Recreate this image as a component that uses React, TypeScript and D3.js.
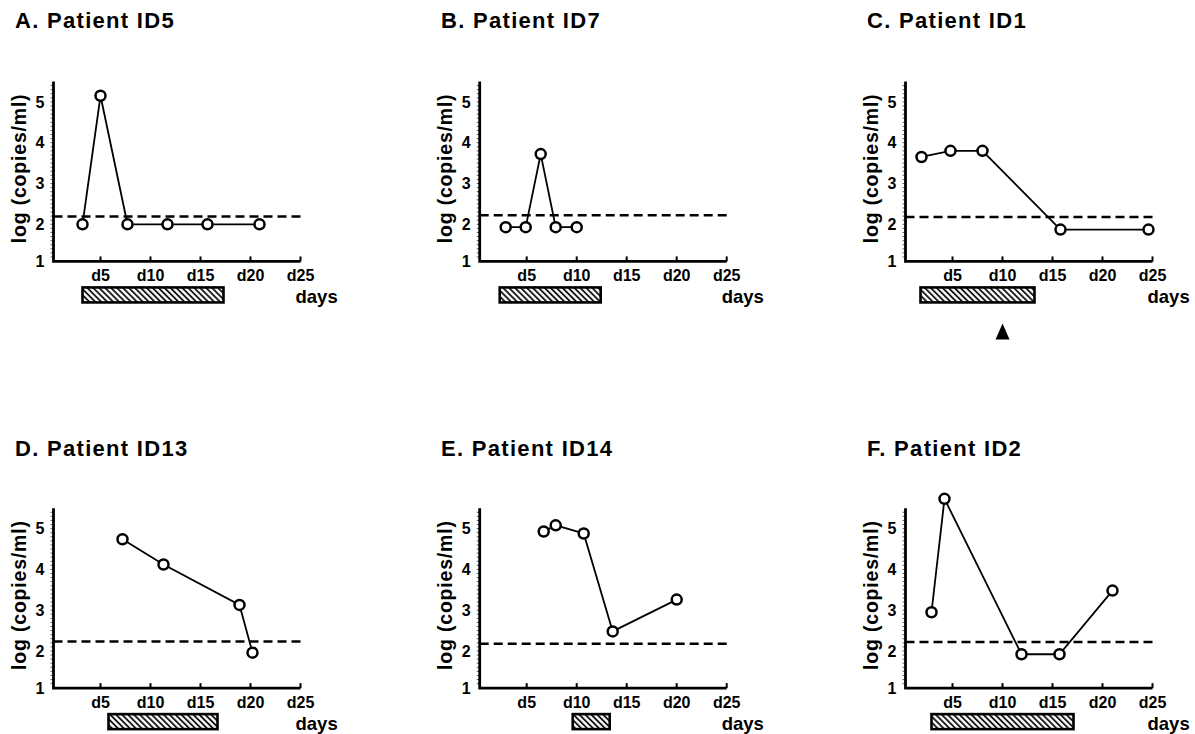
import React from "react";
import * as d3 from "d3";

const titles = [
  "A. Patient ID5",
  "B. Patient ID7",
  "C. Patient ID1",
  "D. Patient ID13",
  "E. Patient ID14",
  "F. Patient ID2",
];

const daysA = [3.2, 5.0, 7.7, 11.7, 15.7, 20.9];
const valuesA = [2.0, 5.15, 2.0, 2.0, 2.0, 2.0];
const daysB = [2.9, 4.9, 6.4, 7.9, 10.0];
const valuesB = [1.93, 1.93, 3.72, 1.93, 1.93];
const daysC = [1.9, 4.8, 8.0, 15.8, 24.6];
const valuesC = [3.65, 3.8, 3.8, 1.87, 1.87];
const daysD = [7.2, 11.3, 18.9, 20.2];
const valuesD = [4.74, 4.12, 3.13, 1.96];
const daysE = [6.7, 7.9, 10.7, 13.6, 20.0];
const valuesE = [4.93, 5.08, 4.88, 2.48, 3.26];
const daysF = [2.9, 4.2, 11.9, 15.7, 21.0];
const valuesF = [2.95, 5.73, 1.92, 1.92, 3.48];

const seriesDays = [daysA, daysB, daysC, daysD, daysE, daysF];
const seriesValues = [valuesA, valuesB, valuesC, valuesD, valuesE, valuesF];

const thresholds = [2.19, 2.22, 2.18, 2.23, 2.18, 2.22];
const treatmentStart = [3.2, 2.3, 1.8, 5.8, 9.6, 2.9];
const treatmentEnd = [17.3, 12.4, 13.2, 16.7, 13.3, 17.1];
const markerDays = [null, null, 10, null, null, null];

const xTickDays = [5, 10, 15, 20, 25];
const xTickLabels = ["d5", "d10", "d15", "d20", "d25"];
const yTicks = [1, 2, 3, 4, 5];
const yLabel = "log (copies/ml)";
const xLabel = "days";

const FONT = "'Liberation Sans', Arial, Helvetica, sans-serif";
const colOrigin = [50.5, 476.7, 902.5];
const rowY2 = [224.3, 651];
const titleBaseline = [28.3, 456];
const unit = 40.8;

function Panel({ idx }: { idx: number }) {
  const col = idx % 3;
  const row = Math.floor(idx / 3);
  const ox = colOrigin[col];
  const y2 = rowY2[row];
  const x = d3.scaleLinear().domain([0, 25]).range([ox, ox + 250]);
  const y = d3.scaleLinear().domain([2, 5.5]).range([y2, y2 - 3.5 * unit]);
  const axisX = x(0.3);
  const yBottom = 1.09;
  const axisY = y(yBottom);
  const yTop = y(5.5);
  const xEnd = x(25);
  const pts: [number, number][] = seriesDays[idx].map((d, i) => [d, seriesValues[idx][i]]);
  const line = d3
    .line<[number, number]>()
    .x((d) => x(d[0]))
    .y((d) => y(d[1]));
  const minor = d3.range(12, 55).map((v) => v / 10);
  const marker = markerDays[idx];
  const barTop = axisY + 26;
  const barH = 15;
  return (
    <g>
      <text
        x={15 + col * 426}
        y={titleBaseline[row]}
        fontFamily={FONT}
        fontWeight="bold"
        fontSize={22}
        letterSpacing={1.3}
        fill="#000"
      >
        {titles[idx]}
      </text>
      <text
        transform={`translate(${axisX - 28},${y(3.37)}) rotate(-90)`}
        textAnchor="middle"
        fontFamily={FONT}
        fontWeight="bold"
        fontSize={19.5}
        letterSpacing={0.8}
      >
        {yLabel}
      </text>
      {minor.map((v) => (
        <line
          key={v}
          x1={axisX - 3}
          x2={axisX}
          y1={y(v)}
          y2={y(v)}
          stroke="#666"
          strokeWidth={1}
        />
      ))}
      <path
        d={`M${axisX},${yTop}V${axisY}H${xEnd}`}
        fill="none"
        stroke="#000"
        strokeWidth={2.8}
      />
      {xTickDays.map((d, i) => (
        <g key={d}>
          <line x1={x(d)} x2={x(d)} y1={axisY} y2={axisY - 5} stroke="#000" strokeWidth={2} />
          <text
            x={x(d)}
            y={axisY + 20}
            textAnchor="middle"
            fontFamily={FONT}
            fontWeight="bold"
            fontSize={16}
          >
            {xTickLabels[i]}
          </text>
        </g>
      ))}
      {yTicks.map((v) => (
        <text
          key={v}
          x={axisX - 9}
          y={y(Math.max(v, yBottom))}
          dy="0.36em"
          textAnchor="end"
          fontFamily={FONT}
          fontWeight="bold"
          fontSize={16}
        >
          {v}
        </text>
      ))}
      <text
        x={ox + 245}
        y={axisY + 42}
        fontFamily={FONT}
        fontWeight="bold"
        fontSize={18.5}
      >
        {xLabel}
      </text>
      <line
        x1={axisX}
        x2={xEnd}
        y1={y(thresholds[idx])}
        y2={y(thresholds[idx])}
        stroke="#000"
        strokeWidth={2.5}
        strokeDasharray="9,5"
      />
      <path d={line(pts) || ""} fill="none" stroke="#000" strokeWidth={1.8} />
      {pts.map((p, i) => (
        <circle
          key={i}
          cx={x(p[0])}
          cy={y(p[1])}
          r={5}
          fill="#fff"
          stroke="#000"
          strokeWidth={2.5}
        />
      ))}
      <rect
        x={x(treatmentStart[idx])}
        y={barTop}
        width={x(treatmentEnd[idx]) - x(treatmentStart[idx])}
        height={barH}
        fill="url(#hatch)"
        stroke="#000"
        strokeWidth={2.6}
      />
      {marker !== null && (
        <path
          d={`M${x(marker)},${axisY + 62}L${x(marker) + 7},${axisY + 78}L${x(marker) - 7},${axisY + 78}Z`}
          fill="#000"
        />
      )}
    </g>
  );
}

export default function App() {
  return (
    <svg
      width={1195}
      height={734}
      style={{ position: "absolute", left: 0, top: 0, background: "#fff" }}
    >
      <defs>
        <pattern
          id="hatch"
          patternUnits="userSpaceOnUse"
          width={4.2}
          height={10}
          patternTransform="rotate(-45)"
        >
          <rect width={4.2} height={10} fill="#fff" />
          <line x1={1} x2={1} y1={0} y2={10} stroke="#000" strokeWidth={1.7} />
        </pattern>
      </defs>
      <rect width={1195} height={734} fill="#fff" />
      {titles.map((_, i) => (
        <Panel key={i} idx={i} />
      ))}
    </svg>
  );
}
